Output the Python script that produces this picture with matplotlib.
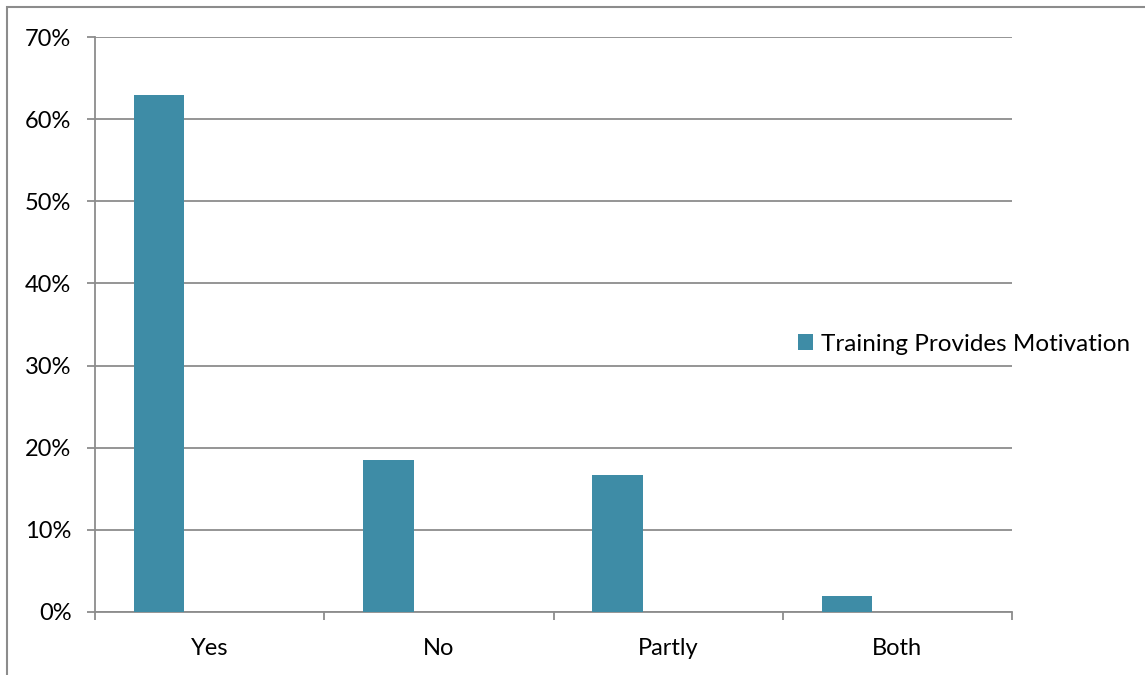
import matplotlib.pyplot as plt
from matplotlib.patches import Rectangle
from matplotlib.ticker import FuncFormatter

plt.rcParams['font.family'] = ['Lato', 'DejaVu Sans']

# Survey answers and share of respondents (%)
categories = ['Yes', 'No', 'Partly', 'Both']
values = [63.0, 18.5, 16.7, 1.9]
series_name = 'Training Provides Motivation'
y_ticks = [0, 10, 20, 30, 40, 50, 60, 70]

bar_color = '#3E8CA6'
grid_color = '#8C8C8C'

fig = plt.figure(figsize=(11.45, 6.75), dpi=100)
ax = fig.add_axes([95 / 1145, 63 / 675, 917 / 1145, 575 / 675])

# Frame around the chart area (right/bottom run off the image)
fig.patches.append(Rectangle((7 / 1145, -0.05), 1.2, 1 - 7 / 675 + 0.05,
                             transform=fig.transFigure, fill=False,
                             edgecolor='#8C8C8C', linewidth=1.5))

# Bars sit in the left half of each category slot
x = list(range(len(categories)))
ax.bar([i - 0.22 for i in x], values, width=0.22, color=bar_color,
       label=series_name, zorder=3)

ax.set_xlim(-0.5, len(categories) - 0.5)
ax.set_ylim(0, 70)
ax.set_yticks(y_ticks)
ax.yaxis.set_major_formatter(FuncFormatter(lambda v, _: f'{v:.0f}%'))
ax.yaxis.grid(True, color=grid_color, linewidth=1.3, zorder=0)

# Tick marks on category boundaries, labels at category centres
ax.set_xticks([i - 0.5 for i in range(len(categories) + 1)])
ax.set_xticklabels([])
ax.set_xticks(x, minor=True)
ax.set_xticklabels(categories, minor=True)
ax.tick_params(axis='x', which='major', length=6, width=1.3, color=grid_color)
ax.tick_params(axis='x', which='minor', length=0, pad=19, labelsize=17)
ax.tick_params(axis='y', length=6, width=1.3, color=grid_color, pad=11, labelsize=17)

for side in ['top', 'right']:
    ax.spines[side].set_visible(False)
for side in ['left', 'bottom']:
    ax.spines[side].set_color(grid_color)
    ax.spines[side].set_linewidth(1.3)

ax.legend(loc='center left', bbox_to_anchor=(703 / 917, 0.466), frameon=False,
          fontsize=17.5, handlelength=0.6, handleheight=0.6, handletextpad=0.35,
          borderaxespad=0.0, borderpad=0.0)

fig.savefig('out.png', dpi=100)
